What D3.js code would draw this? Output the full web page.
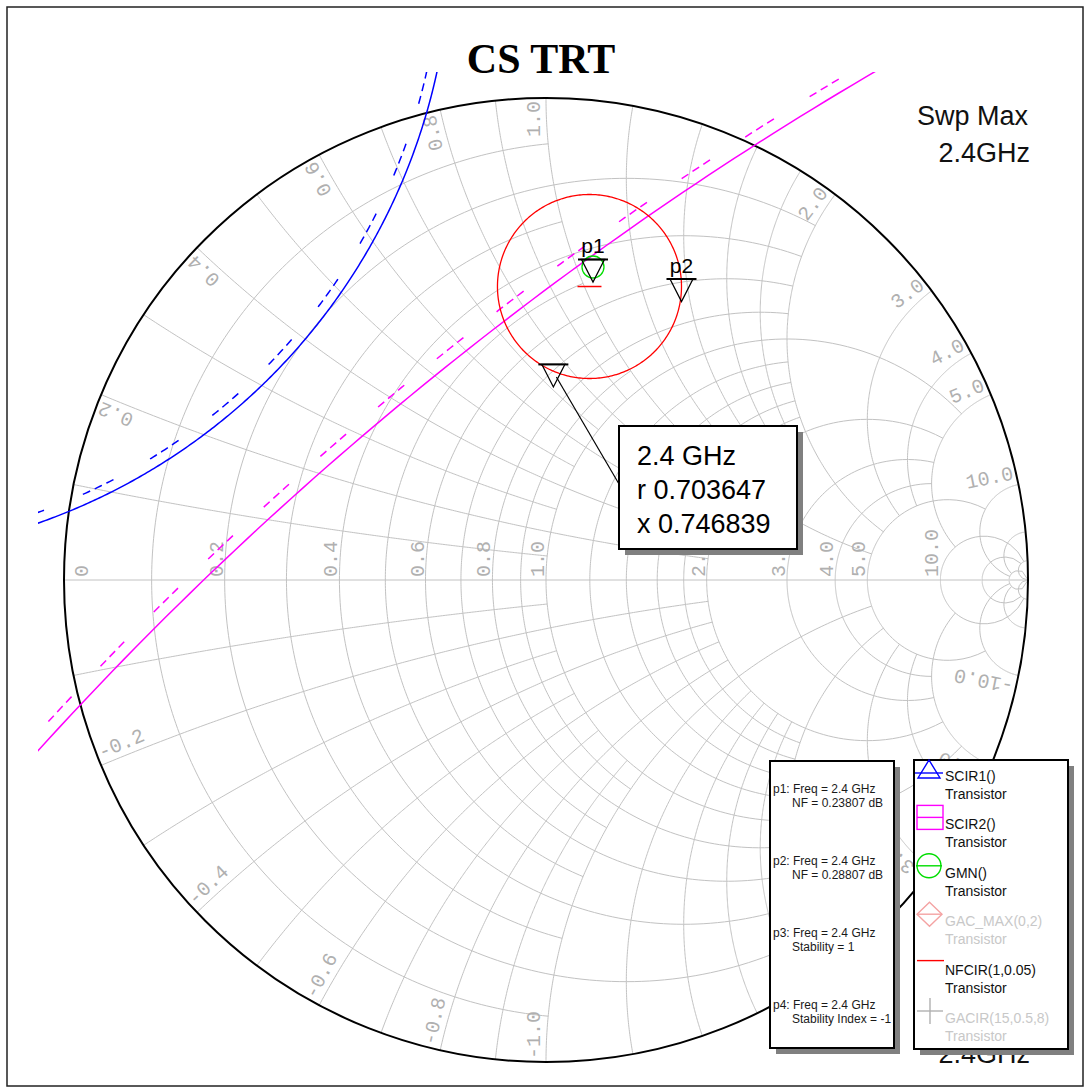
<!DOCTYPE html>
<html>
<head>
<meta charset="utf-8">
<script src="https://cdn.jsdelivr.net/npm/d3@7"></script>
<style>
body { margin: 0; background: #fff; }
svg { display: block; }
</style>
</head>
<body>
<div id="chart"></div>
<script>
// Smith chart grid values (normalised r and x)
var gridValues = [0.1, 0.2, 0.3, 0.4, 0.5, 0.6, 0.7, 0.8, 0.9, 1.0, 1.2, 1.4, 1.6, 1.8, 2.0, 3.0, 4.0, 5.0, 10, 20, 50];
// how far each grid line runs along the other family
var gridLimits = [1, 2, 1, 2, 1, 2, 1, 2, 1, 5, 2, 2, 2, 2, 5, 5, 5, 10, 50, 50, Infinity];

var rLabelValues = [0, 0.2, 0.4, 0.6, 0.8, 1.0, 2.0, 3.0, 4.0, 5.0, 10.0];
var xLabelValues = [0.2, 0.4, 0.6, 0.8, 1.0, 2.0, 3.0, 4.0, 5.0, 10.0];

// traces, given in the reflection coefficient plane
var scirCenters = [[-1.477, 1.326], [4.406, -5.309]];
var scirRadii = [1.280, 7.373];
var scirHatch = [-0.021, 0.025];      // dashed side of each stability circle
var scirColors = ["#0000ff", "#ff00ff"];
var nfcirCenter = [0.0902, 0.6089];
var nfcirRadius = 0.1909;
var gmnPoint = [0.0975, 0.6494];
var markerZ = [0.703647, 0.746839];  // r, x read out at the marker
var markerFreq = "2.4 GHz";

var readoutTitles = ["p1: Freq = 2.4 GHz", "p2: Freq = 2.4 GHz", "p3: Freq = 2.4 GHz", "p4: Freq = 2.4 GHz"];
var readoutValues = ["NF = 0.23807 dB", "NF = 0.28807 dB", "Stability = 1", "Stability Index = -1"];

var legendNames = ["SCIR1()", "SCIR2()", "GMN()", "GAC_MAX(0,2)", "NFCIR(1,0.05)", "GACIR(15,0.5,8)"];
var legendColors = ["#0000ff", "#ff00ff", "#00dd00", "#f4a3a3", "#ff0000", "#b0b0b0"];
var legendShown = [true, true, true, false, true, false];

var W = 1085, H = 1088;
var cx = 546, cy = 580, R = 482;

var svg = d3.select("#chart").append("svg")
	.attr("width", W)
	.attr("height", H);

var xs = d3.scaleLinear().domain([-1, 1]).range([cx - R, cx + R]);
var ys = d3.scaleLinear().domain([-1, 1]).range([cy + R, cy - R]);

//z -> gamma
function gamma(r, x) {
	var d = (r + 1) * (r + 1) + x * x;
	return [(r * r - 1 + x * x) / d, 2 * x / d];
}

var line = d3.line()
	.x(function(d) { return xs(d[0]); })
	.y(function(d) { return ys(d[1]); });

function circlePts(c, rad, n) {
	return d3.range(n + 1).map(function(k) {
		var a = k / n * 2 * Math.PI;
		return [c[0] + rad * Math.cos(a), c[1] + rad * Math.sin(a)];
	});
}

//Outer frame
svg.append("rect")
	.attr("x", 7).attr("y", 7)
	.attr("width", 1076).attr("height", 1079)
	.attr("fill", "none")
	.attr("stroke", "#222")
	.attr("stroke-width", 1.5);

//Grid
var grid = svg.append("g")
	.attr("fill", "none")
	.attr("stroke", "#c2c2c2")
	.attr("stroke-width", 1);

gridValues.forEach(function(v, i) {
	var lim = Math.atan(gridLimits[i]);
	var rPts = d3.range(241).map(function(k) {
		return gamma(v, Math.tan(-lim + 2 * lim * k / 240));
	});
	grid.append("path").attr("d", line(rPts));
	[1, -1].forEach(function(s) {
		var xPts = d3.range(241).map(function(k) {
			return gamma(Math.tan(lim * k / 240), s * v);
		});
		grid.append("path").attr("d", line(xPts));
	});
});
grid.append("path").attr("d", line([[-1, 0], [1, 0]]));

//Grid labels
var lab = svg.append("g")
	.attr("font-family", "Liberation Mono, monospace")
	.attr("font-size", 20)
	.attr("fill", "#b0b0b0");

rLabelValues.forEach(function(v) {
	var px = v === 0 ? xs(-1) + 24 : xs(gamma(v, 0)[0]) - 2;
	var py = ys(0) - 3;
	lab.append("text")
		.attr("transform", "translate(" + px + "," + py + ") rotate(-90)")
		.text(v === 0 ? "0" : v.toFixed(1));
});

xLabelValues.forEach(function(v) {
	var g = gamma(0, v);
	var th = Math.atan2(g[1], g[0]);
	[1, -1].forEach(function(s) {
		var a = s * th;
		var ex = xs(0) + (R - 3) * Math.cos(a),
			ey = ys(0) - (R - 3) * Math.sin(a);
		var phi = s > 0 ? -th * 180 / Math.PI : th * 180 / Math.PI - 180;
		var pr = phi * Math.PI / 180;
		var ux = Math.sin(pr), uy = -Math.cos(pr);
		lab.append("text")
			.attr("transform", "translate(" + (ex + 6 * ux) + "," + (ey + 6 * uy) + ") rotate(" + phi + ")")
			.attr("text-anchor", s > 0 ? "end" : "start")
			.text((s < 0 ? "-" : "") + v.toFixed(1));
	});
});

//Chart boundary
svg.append("circle")
	.attr("cx", xs(0)).attr("cy", ys(0))
	.attr("r", xs(1) - xs(0))
	.attr("fill", "none")
	.attr("stroke", "#000")
	.attr("stroke-width", 2);

//Traces
svg.append("clipPath").attr("id", "plotclip")
	.append("rect")
	.attr("x", 38).attr("y", 72)
	.attr("width", 1012).attr("height", 1010);

var traces = svg.append("g").attr("clip-path", "url(#plotclip)").attr("fill", "none");

scirCenters.forEach(function(c, i) {
	traces.append("path")
		.attr("d", line(circlePts(c, scirRadii[i], 1440)))
		.attr("stroke", scirColors[i])
		.attr("stroke-width", 1.5);
	traces.append("path")
		.attr("d", line(circlePts(c, scirRadii[i] + scirHatch[i], 1440)))
		.attr("stroke", scirColors[i])
		.attr("stroke-width", 1.5)
		.attr("stroke-dasharray", "8,5,8,5,8,42");
});

traces.append("path")
	.attr("d", line(circlePts(nfcirCenter, nfcirRadius, 360)))
	.attr("stroke", "#ff0000")
	.attr("stroke-width", 1.3);

//NFCIR centre mark
traces.append("line")
	.attr("x1", xs(nfcirCenter[0]) - 12).attr("x2", xs(nfcirCenter[0]) + 12)
	.attr("y1", ys(nfcirCenter[1])).attr("y2", ys(nfcirCenter[1]))
	.attr("stroke", "#ff0000").attr("stroke-width", 1.5);

//GMN point
traces.append("circle")
	.attr("cx", xs(gmnPoint[0])).attr("cy", ys(gmnPoint[1]))
	.attr("r", 11)
	.attr("stroke", "#00dd00").attr("stroke-width", 1.3);

//Markers
var p3 = gamma(markerZ[0], markerZ[1]);
var markers = [
	{ name: "p1", g: gmnPoint },
	{ name: "p2", g: [nfcirCenter[0] + nfcirRadius, nfcirCenter[1]] },
	{ name: "", g: p3 }
];

var mk = svg.append("g").attr("fill", "none").attr("stroke", "#000").attr("stroke-width", 1.3);
markers.forEach(function(m) {
	var x = xs(m.g[0]), y = ys(m.g[1]);
	mk.append("path")
		.attr("d", "M" + (x - 11.5) + "," + (y - 7.5) + "L" + (x + 11.5) + "," + (y - 7.5) + "L" + x + "," + (y + 15) + "Z");
	mk.append("line")
		.attr("x1", x - 15).attr("x2", x + 15)
		.attr("y1", y - 7.5).attr("y2", y - 7.5)
		.attr("stroke-width", 2);
	if (m.name) {
		svg.append("text")
			.attr("x", x).attr("y", y - 14)
			.attr("text-anchor", "middle")
			.attr("font-family", "Liberation Sans, Arial, sans-serif")
			.attr("font-size", 21)
			.attr("fill", "#000")
			.text(m.name);
	}
});

//Title and sweep text
svg.append("text")
	.attr("x", 541).attr("y", 73)
	.attr("text-anchor", "middle")
	.attr("font-family", "Liberation Serif, Times New Roman, serif")
	.attr("font-weight", "bold")
	.attr("font-size", 42)
	.text("CS TRT");

var swp = svg.append("g")
	.attr("font-family", "Liberation Sans, Arial, sans-serif")
	.attr("font-size", 27)
	.attr("fill", "#111")
	.attr("text-anchor", "end");
swp.append("text").attr("x", 1028).attr("y", 125).text("Swp Max");
swp.append("text").attr("x", 1030).attr("y", 162).text("2.4GHz");
// sweep minimum sits mostly under the legend
swp.append("text").attr("x", 1030).attr("y", 1063).text("2.4GHz");

//Boxes with drop shadow
function box(x, y, w, h) {
	svg.append("rect").attr("x", x + 6).attr("y", y + 6).attr("width", w).attr("height", h).attr("fill", "#808080");
	svg.append("rect").attr("x", x).attr("y", y).attr("width", w).attr("height", h)
		.attr("fill", "#fff").attr("stroke", "#000").attr("stroke-width", 2);
}

//Marker readout
var mx = xs(p3[0]), my = ys(p3[1]);
svg.append("line")
	.attr("x1", mx + 3).attr("y1", my + 5)
	.attr("x2", 619).attr("y2", 484)
	.attr("stroke", "#000").attr("stroke-width", 1.2);
box(619, 426, 178, 123);
var ro = svg.append("g")
	.attr("font-family", "Liberation Sans, Arial, sans-serif")
	.attr("font-size", 27)
	.attr("fill", "#000");
ro.append("text").attr("x", 637).attr("y", 465).text(markerFreq);
ro.append("text").attr("x", 637).attr("y", 499).text("r " + markerZ[0].toFixed(6));
ro.append("text").attr("x", 637).attr("y", 533).text("x " + markerZ[1].toFixed(6));

//Marker list
box(770, 761, 124, 287);
var ml = svg.append("g")
	.attr("font-family", "Liberation Sans, Arial, sans-serif")
	.attr("font-size", 12)
	.attr("fill", "#1a1a1a");
readoutTitles.forEach(function(t, i) {
	ml.append("text").attr("x", 773).attr("y", 793 + i * 72).text(t);
	ml.append("text").attr("x", 792).attr("y", 807 + i * 72).text(readoutValues[i]);
});

//Legend
box(914, 760, 154, 289);
var lg = svg.append("g")
	.attr("font-family", "Liberation Sans, Arial, sans-serif")
	.attr("font-size", 14);
legendNames.forEach(function(n, i) {
	var y0 = 781 + i * 48.4;
	var c = legendColors[i];
	var sy = y0 - 12;
	var sym = lg.append("g").attr("fill", "none").attr("stroke", c).attr("stroke-width", 1.4);
	if (i === 0) {
		sym.append("path").attr("d", "M929," + (sy - 9) + "L918," + (sy + 9) + "L940," + (sy + 9) + "Z");
		sym.append("line").attr("x1", 915).attr("x2", 943).attr("y1", sy + 4).attr("y2", sy + 4);
	} else if (i === 1) {
		sym.append("rect").attr("x", 917).attr("y", sy - 12).attr("width", 26).attr("height", 24);
		sym.append("line").attr("x1", 917).attr("x2", 943).attr("y1", sy).attr("y2", sy);
	} else if (i === 2) {
		sym.append("circle").attr("cx", 929).attr("cy", sy).attr("r", 12);
		sym.append("line").attr("x1", 916).attr("x2", 942).attr("y1", sy).attr("y2", sy);
	} else if (i === 3) {
		sym.append("path").attr("d", "M929.5," + (sy - 12) + "L942," + sy + "L929.5," + (sy + 12) + "L917," + sy + "Z");
		sym.append("line").attr("x1", 917).attr("x2", 942).attr("y1", sy).attr("y2", sy);
	} else if (i === 4) {
		sym.append("line").attr("x1", 917).attr("x2", 944).attr("y1", sy - 2).attr("y2", sy - 2);
	} else {
		sym.append("line").attr("x1", 917).attr("x2", 943).attr("y1", sy).attr("y2", sy);
		sym.append("line").attr("x1", 930).attr("x2", 930).attr("y1", sy - 13).attr("y2", sy + 13);
	}
	var tc = legendShown[i] ? "#111" : "#c8c8c8";
	lg.append("text").attr("x", 945).attr("y", y0).attr("fill", tc).text(n);
	lg.append("text").attr("x", 945).attr("y", y0 + 18).attr("fill", tc).text("Transistor");
});
</script>
</body>
</html>
